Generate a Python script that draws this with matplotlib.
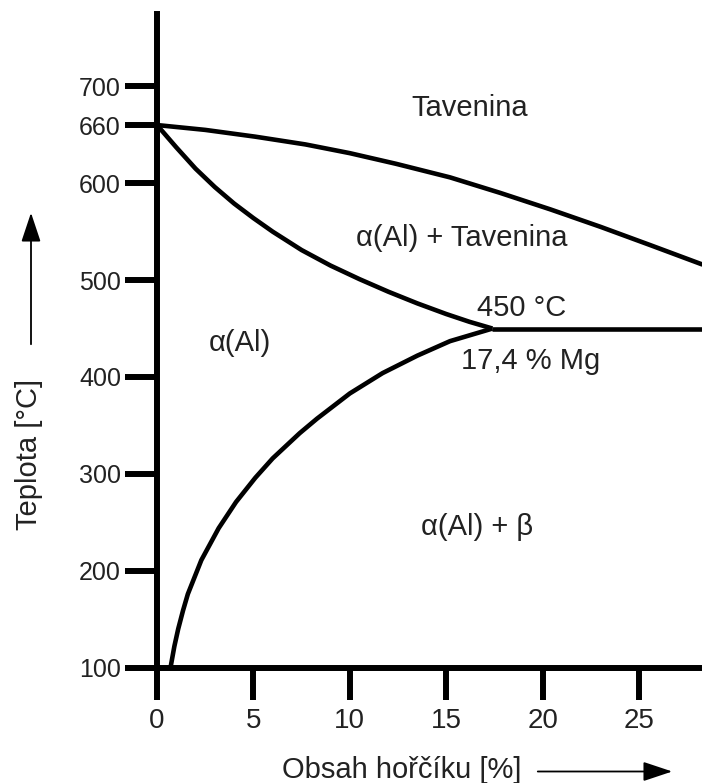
import matplotlib
matplotlib.use("Agg")
import matplotlib.pyplot as plt

plt.rcParams['font.family'] = ['Liberation Sans', 'DejaVu Sans']

# --- data (Mg content in %, temperature in °C) ---
liquidus_x = [0, 2.5, 5.1, 7.7, 10.0, 12.4, 15.2, 17.8, 20.4, 23.0, 25.6, 28.3]
liquidus_t = [660, 655, 648, 640, 631, 620, 606, 590, 573, 555, 536, 516]

solidus_x = [0, 1, 2, 3, 4, 5, 6, 7.5, 9, 10.5, 12, 13.5, 15, 16.2, 17.4]
solidus_t = [660, 637, 615, 596, 579, 564, 550, 531, 515, 501, 488, 476, 465, 457, 450]

solvus_x = [0.7, 0.9, 1.1, 1.35, 1.6, 2.3, 3.2, 4.1, 5.1, 6.0, 7.4, 8.3, 10.0, 11.7, 13.5, 15.2, 17.4]
solvus_t = [100, 122, 140, 159, 176, 211, 244, 271, 296, 316, 342, 357, 383, 404, 422, 437, 450]

eutectic_x = [17.4, 28.3]
eutectic_t = [450, 450]

x_ticks = [0, 5, 10, 15, 20, 25]
y_ticks = [100, 200, 300, 400, 500, 600, 660, 700]

region_labels = ["Tavenina", "α(Al) + Tavenina", "α(Al)", "α(Al) + β", "450 °C", "17,4 % Mg"]
region_pos = [(16.2, 678), (15.8, 543), (4.3, 435), (16.6, 245), (18.9, 471), (19.4, 416)]

W, H = 702, 783
fig = plt.figure(figsize=(W / 100, H / 100), dpi=100)
ax = fig.add_axes([157 / W, (H - 667.7) / H, 1 - 157 / W, (667.7 - 14) / H])

lw = 3.3
for xs, ts in [(liquidus_x, liquidus_t), (solidus_x, solidus_t),
               (solvus_x, solvus_t), (eutectic_x, eutectic_t)]:
    ax.plot(xs, ts, color='black', lw=lw, solid_joinstyle='round', solid_capstyle='butt')

ax.set_xlim(0, 28.27)
ax.set_ylim(100, 774.6)

for s in ['top', 'right']:
    ax.spines[s].set_visible(False)
for s in ['left', 'bottom']:
    ax.spines[s].set_linewidth(4.3)
    ax.spines[s].set_color('black')

ax.set_xticks(x_ticks)
ax.set_yticks(y_ticks)
ax.set_xticklabels([str(v) for v in x_ticks])
ax.set_yticklabels([str(v) for v in y_ticks])
ax.tick_params(axis='both', length=23, width=4.3, color='black', labelcolor='#222222')
ax.tick_params(axis='y', pad=3, labelsize=18)
ax.tick_params(axis='x', pad=6, labelsize=20)

for lab, (px, py) in zip(region_labels, region_pos):
    ax.text(px, py, lab, fontsize=21, color='#222222', ha='center', va='center')

# axis titles
fig.text(37 / W, (H - 454) / H, "Teplota [°C]", rotation=90, rotation_mode='anchor',
         ha='center', va='baseline', fontsize=21, color='#222222')
fig.text(401.5 / W, (H - 778) / H, "Obsah hořčíku [%]", ha='center', va='baseline',
         fontsize=21, color='#222222')

# direction arrows
fig.add_artist(matplotlib.patches.FancyArrowPatch(
    (31 / W, (H - 347) / H), (31 / W, (H - 210) / H), transform=fig.transFigure,
    arrowstyle='-|>,head_length=0.9,head_width=0.3', color='black', lw=1.3,
    mutation_scale=20))
fig.add_artist(matplotlib.patches.FancyArrowPatch(
    (535 / W, (H - 771.5) / H), (675 / W, (H - 771.5) / H), transform=fig.transFigure,
    arrowstyle='-|>,head_length=0.9,head_width=0.3', color='black', lw=1.3,
    mutation_scale=20))

fig.savefig("out.png", dpi=100)
